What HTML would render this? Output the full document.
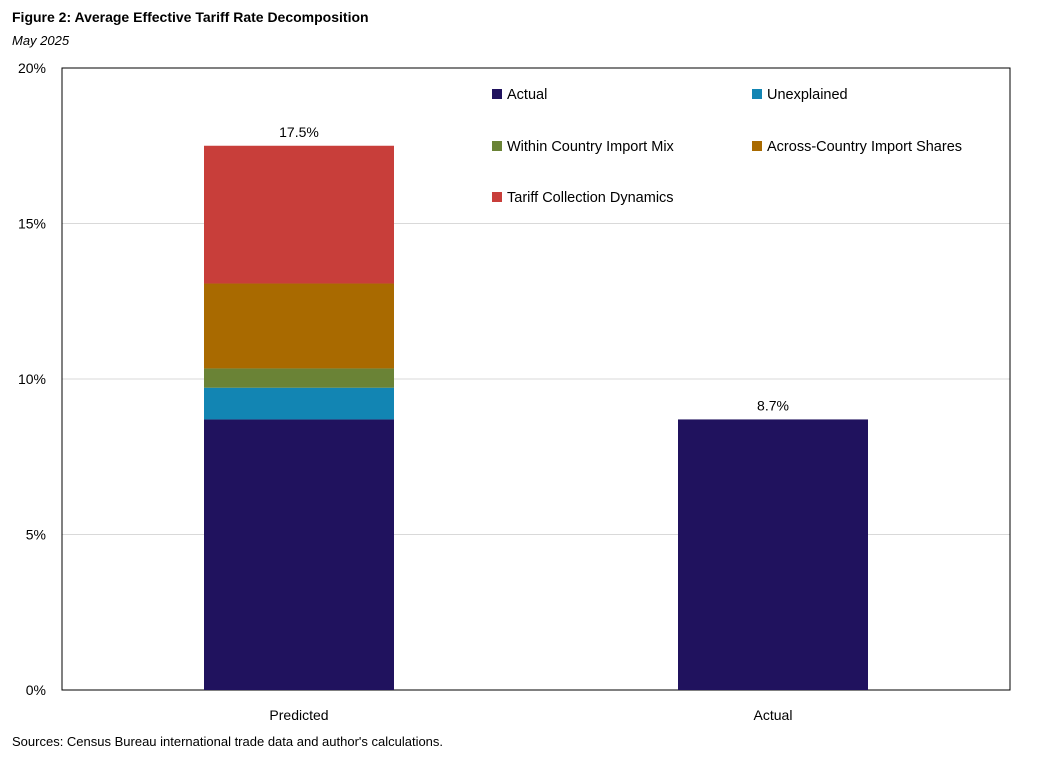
<!DOCTYPE html>
<html><head><meta charset="utf-8"><style>
body{margin:0;background:#fff;font-family:"Liberation Sans",Arial,sans-serif}
svg text{font-family:"Liberation Sans",Arial,sans-serif}
</style></head><body>
<svg id="chart" width="1044" height="758" xmlns="http://www.w3.org/2000/svg">
<text x="12" y="22" font-size="14" font-weight="bold" fill="#000">Figure 2: Average Effective Tariff Rate Decomposition</text>
<text x="12" y="45" font-size="13" font-style="italic" fill="#000">May 2025</text>
<text x="12" y="746" font-size="13" fill="#000">Sources: Census Bureau international trade data and author's calculations.</text>
<g id="grid"></g>
<rect x="62" y="68" width="948" height="622" fill="none" stroke="#000" stroke-width="1"/>
<g id="bars"></g>
<g id="legend"></g>
</svg>
<script>
const categories=["Predicted","Actual"];
const seriesNames=["Actual","Unexplained","Within Country Import Mix","Across-Country Import Shares","Tariff Collection Dynamics"];
const actualVals=[8.7,8.7];
const unexplainedVals=[1.02,0];
const withinVals=[0.62,0];
const acrossVals=[2.73,0];
const tariffVals=[4.43,0];
const totalLabels=["17.5%","8.7%"];
const yTicks=[0,5,10,15,20];
const colors=["#20125e","#1285b3","#6a8336","#a96a00","#c83e3a"];
const NS="http://www.w3.org/2000/svg";
const svg=document.getElementById('chart');
const y0=690,y1=68,x0=62,x1=1010,yMax=20;
const y=v=>y0-(v/yMax)*(y0-y1);
const bandW=(x1-x0)/categories.length;
const xc=i=>x0+bandW*(i+0.5);
const barW=190;
function mk(tag,attrs,parent){const e=document.createElementNS(NS,tag);for(const k in attrs)e.setAttribute(k,attrs[k]);parent.appendChild(e);return e;}
const grid=document.getElementById('grid');
yTicks.forEach(t=>{
  if(t>0&&t<yMax){const l=mk('line',{x1:x0,x2:x1,y1:y(t),y2:y(t),stroke:'#d9d9d9','stroke-width':1},grid);
  
  }
  const tx=mk('text',{x:x0-16,y:y(t)+5,'font-size':14,'text-anchor':'end',fill:'#000'},grid);
  tx.textContent=t+'%';
  
  
});
const bars=document.getElementById('bars');
const series=[actualVals,unexplainedVals,withinVals,acrossVals,tariffVals];
categories.forEach((c,i)=>{
  let base=0;
  series.forEach((s,j)=>{
    const v=s[i]; if(v<=0)return;
    const r=mk('rect',{x:xc(i)-barW/2,y:y(base+v),width:barW,height:y(base)-y(base+v),fill:colors[j]},bars);
    
    
    base+=v;
  });
  const lb=mk('text',{x:xc(i),y:y(base)-9,'font-size':14,'text-anchor':'middle',fill:'#000'},bars);
  lb.textContent=totalLabels[i];
  
  
  const xl=mk('text',{x:xc(i),y:720,'font-size':14,'text-anchor':'middle',fill:'#000'},bars);
  xl.textContent=c;
  
  
});
const legend=document.getElementById('legend');
const lpos=[[492,94],[752,94],[492,146],[752,146],[492,197]];
seriesNames.forEach((n,j)=>{
  const g=mk('g',{},legend);
  
  
  mk('rect',{x:lpos[j][0],y:lpos[j][1]-5,width:10,height:10,fill:colors[j]},g);
  const t=mk('text',{x:lpos[j][0]+15,y:lpos[j][1]+5,'font-size':14.5,fill:'#000'},g);
  t.textContent=n;
});
</script>
</body></html>
